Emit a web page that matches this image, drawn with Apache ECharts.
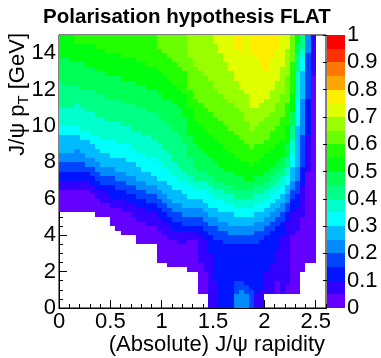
<!DOCTYPE html>
<html><head><meta charset="utf-8">
<script src="https://cdn.jsdelivr.net/npm/echarts@6/dist/echarts.min.js"></script>
<style>html,body{margin:0;padding:0;background:#fff}#c{width:381px;height:358px}</style>
</head><body><div id="c"></div>
<script>
// ---- data ----
const rapBinWidth = 0.05;          // |y| bin width
const ptBinWidth = 0.25;           // pT bin width [GeV]
const nPtBins = 60;                // 0..15 GeV
const zLevels = 20;                // colour contours 0..1 in steps of 0.05
// each column (rapidity bin) : "startRow:level" runs, from pT = 0 upwards; empty below first run
const columnRuns = [
"21:0 26:1 28:2 30:3 32:4 34:5 38:6 40:7 44:8 50:9 55:10",
"21:0 26:1 28:2 30:3 32:4 34:5 38:6 40:7 44:8 49:9 55:10",
"21:0 26:1 28:2 30:3 32:4 34:5 38:6 40:7 44:8 49:9 54:10",
"21:0 26:1 28:2 30:3 32:4 35:5 38:6 40:7 45:8 49:9 54:10 58:11",
"21:0 26:1 28:2 30:3 32:4 34:5 37:6 39:7 44:8 48:9 54:10 58:11",
"21:0 26:1 28:2 30:3 31:4 33:5 37:6 39:7 43:8 48:9 53:10 58:11",
"21:0 25:1 27:2 29:3 31:4 33:5 36:6 38:7 43:8 48:9 53:10 58:11",
"20:0 24:1 26:2 28:3 30:4 32:5 35:6 38:7 42:8 47:9 52:10 57:11",
"20:0 23:1 26:2 27:3 29:4 31:5 34:6 37:7 42:8 47:9 52:10 57:11",
"20:0 23:1 25:2 27:3 29:4 31:5 34:6 37:7 41:8 46:9 51:10 56:11",
"18:0 22:1 24:2 27:3 29:4 31:5 33:6 37:7 41:8 46:9 51:10 56:11",
"17:0 22:1 24:2 26:3 28:4 30:5 33:6 36:7 41:8 46:9 51:10 56:11",
"16:0 21:1 24:2 26:3 28:4 30:5 33:6 36:7 40:8 45:9 50:10 55:11",
"16:0 21:1 23:2 25:3 27:4 29:5 32:6 36:7 40:8 45:9 50:10 55:11",
"16:0 20:1 23:2 25:3 27:4 29:5 32:6 35:7 39:8 45:9 50:10 55:11",
"14:0 19:1 22:2 24:3 26:4 28:5 31:6 34:7 39:8 44:9 49:10 54:11",
"14:0 19:1 22:2 24:3 26:4 28:5 30:6 34:7 38:8 44:9 49:10 54:11",
"14:0 18:1 21:2 23:3 25:4 27:5 30:6 33:7 38:8 43:9 48:10 53:11",
"14:0 18:1 21:2 23:3 25:4 27:5 29:6 33:7 37:8 43:9 48:10 53:11",
"10:0 17:1 20:2 22:3 24:4 26:5 28:6 32:7 36:8 42:9 47:10 52:11 57:12",
"10:0 16:1 19:2 21:3 23:4 25:5 28:6 31:7 35:8 41:9 46:10 51:11 56:12",
"9:0 15:1 18:2 20:3 22:4 24:5 27:6 30:7 34:8 40:9 46:10 50:11 55:12",
"9:0 15:1 17:2 19:3 21:4 23:5 26:6 29:7 32:8 39:9 45:10 49:11 54:12",
"9:0 14:1 17:2 19:3 21:4 23:5 26:6 28:7 31:8 38:9 44:10 48:11 53:12",
"9:0 14:1 17:2 18:3 20:4 22:5 25:6 28:7 30:8 36:9 42:10 47:11 52:12",
"8:0 15:1 17:2 18:3 20:4 22:5 24:6 27:7 29:8 33:9 38:10 44:11 48:12 55:13",
"8:0 15:1 17:2 18:3 20:4 22:5 24:6 26:7 28:8 31:9 36:10 41:11 46:12 53:13",
"3:0 10:1 16:2 18:3 20:4 22:5 24:6 26:7 28:8 30:9 35:10 40:11 45:12 52:13",
"3:0 8:1 15:2 17:3 19:4 21:5 23:6 26:7 28:8 30:9 34:10 39:11 44:12 51:13",
"0:1 12:2 16:3 18:4 20:5 22:6 25:7 27:8 29:9 33:10 38:11 43:12 50:13",
"0:1 6:2 15:3 18:4 20:5 22:6 24:7 26:8 28:9 32:10 37:11 42:12 48:13 58:14",
"0:2 15:3 17:4 19:5 21:6 24:7 26:8 28:9 31:10 36:11 41:12 47:13 56:14",
"0:2 14:3 17:4 19:5 21:6 23:7 25:8 27:9 30:10 35:11 40:12 46:13 54:14",
"0:2 14:3 16:4 18:5 21:6 23:7 25:8 27:9 30:10 34:11 39:12 45:13 52:14",
"0:4 3:3 6:2 14:3 16:4 18:5 20:6 22:7 24:8 26:9 29:10 33:11 38:12 44:13 50:14 57:15",
"0:4 4:3 6:2 14:3 16:4 18:5 20:6 22:7 24:8 26:9 29:10 32:11 37:12 43:13 48:14 56:15",
"0:4 3:3 5:2 14:3 16:4 18:5 20:6 22:7 24:8 26:9 28:10 32:11 36:12 41:13 47:14",
"0:3 4:2 14:3 16:4 18:5 20:6 22:7 24:8 26:9 28:10 31:11 35:12 39:13 44:14 56:15",
"0:1 3:2 14:3 17:4 19:5 21:6 23:7 25:8 27:9 29:10 32:11 36:12 40:13 44:14 55:15",
"0:1 4:2 15:3 17:4 19:5 21:6 23:7 25:8 27:9 29:10 33:11 36:12 41:13 45:14 53:15",
"3:1 8:2 16:3 18:4 20:5 22:6 24:7 26:8 28:9 30:10 34:11 37:12 42:13 46:14 52:15",
"3:1 10:2 17:3 19:4 21:5 23:6 25:7 27:8 29:9 31:10 35:11 39:12 43:13 48:14 55:15",
"3:0 6:1 13:2 18:3 20:4 22:5 24:6 26:7 28:8 30:9 32:10 36:11 40:12 45:13 50:14 57:15",
"3:1 16:2 19:3 21:4 23:5 25:6 27:7 29:8 31:9 33:10 37:11 42:12 47:13 53:14",
"3:0 5:1 19:2 21:3 23:4 25:5 27:6 29:7 31:8 33:9 36:10 40:11 45:12 51:13 57:14",
"3:0 16:1 21:2 24:3 26:4 28:5 31:6 34:7 37:8 40:9 43:10 47:11 54:12",
"3:0 17:1 22:2 25:3 28:4 31:5 40:6 46:7 52:8 56:9 58:10",
"8:0 20:1 27:2 31:3 38:4 46:5 52:6 55:7 57:8",
"10:0 30:1 38:2 46:3 56:4",
"10:0 51:1",
"",
""
];
const paletteColors = ['#6300ff','#3300ff','#0014ff','#0044ff','#008bff','#00bbff','#00fffc','#00ffcc',
  '#00ff85','#00ff55','#00ff0e','#22ff00','#69ff00','#99ff00','#e0ff00','#ffee00','#ffa700','#ff7700','#ff3000','#ff0000'];

// ---- build cells ----
const cells = [];
columnRuns.forEach((s, c) => {
  if (!s) return;
  const runs = s.split(' ').map(t => t.split(':').map(Number));
  runs.forEach(([start, lvl], i) => {
    const end = i + 1 < runs.length ? runs[i + 1][0] : nPtBins;
    for (let r = start; r < end; r++) cells.push([c * rapBinWidth, r * ptBinWidth, (lvl + 0.5) / zLevels]);
  });
});
const paletteCells = [];
for (let i = 0; i < zLevels; i++) paletteCells.push([0, i / zLevels, (i + 0.5) / zLevels]);

const FONT = 'Liberation Sans, Arial, Helvetica, sans-serif';
const pieces = paletteColors.map((col, i) => i === zLevels - 1
  ? { gte: i / zLevels, lte: 1, color: col } : { gte: i / zLevels, lt: (i + 1) / zLevels, color: col });

function rectItem(api, x0, y0, x1, y1) {
  const a = api.coord([x0, y1]), b = api.coord([x1, y0]);
  const X0 = Math.round(a[0]), Y0 = Math.round(a[1]), X1 = Math.round(b[0]), Y1 = Math.round(b[1]);
  return { type: 'rect', shape: { x: X0, y: Y0, width: X1 - X0, height: Y1 - Y0 },
    style: { fill: api.visual('color') } };
}

const chart = echarts.init(document.getElementById('c'), null, { renderer: 'canvas' });
const axisTextStyle = { color: '#000', fontSize: 22, fontFamily: FONT };
chart.setOption({
  animation: false,
  backgroundColor: '#fff',
  grid: [
    { left: 59, top: 35, width: 267, height: 273, show: true, borderColor: '#000', borderWidth: 1, backgroundColor: 'transparent' },
    { left: 327, top: 35, width: 18, height: 273 }
  ],
  visualMap: { type: 'piecewise', show: false, dimension: 2, seriesIndex: [0, 1], pieces: pieces },
  xAxis: [
    { gridIndex: 0, type: 'value', min: 0, max: 2.6, interval: 0.1, position: 'bottom',
      axisLine: { show: true, lineStyle: { color: '#000', width: 1 } },
      axisTick: { show: true, inside: true, length: 4, lineStyle: { color: '#000' } },
      axisLabel: { show: false }, splitLine: { show: false } },
    { gridIndex: 0, type: 'value', min: 0, max: 2.6, interval: 0.5, position: 'bottom',
      axisLine: { show: false },
      axisTick: { show: true, inside: true, length: 8, lineStyle: { color: '#000' } },
      axisLabel: Object.assign({ show: true, margin: 3, showMaxLabel: false }, axisTextStyle),
      splitLine: { show: false } },
    { gridIndex: 1, type: 'value', min: 0, max: 1, show: false }
  ],
  yAxis: [
    { gridIndex: 0, type: 'value', min: 0, max: 15, interval: 0.5, position: 'left',
      axisLine: { show: true, lineStyle: { color: '#000', width: 1 } },
      axisTick: { show: true, inside: true, length: 4, lineStyle: { color: '#000' } },
      axisLabel: { show: false }, splitLine: { show: false } },
    { gridIndex: 0, type: 'value', min: 0, max: 15, interval: 2, position: 'left',
      axisLine: { show: false },
      axisTick: { show: true, inside: true, length: 8, lineStyle: { color: '#000' } },
      axisLabel: Object.assign({ show: true, margin: 3, showMaxLabel: false }, axisTextStyle),
      splitLine: { show: false } },
    { gridIndex: 1, type: 'value', min: 0, max: 1, interval: 0.1, position: 'right',
      axisLine: { show: false },
      axisTick: { show: true, inside: true, length: 4, lineStyle: { color: '#000' } },
      axisLabel: Object.assign({ show: true, margin: 2 }, axisTextStyle),
      splitLine: { show: false } }
  ],
  series: [
    { type: 'custom', xAxisIndex: 0, yAxisIndex: 0, data: cells, z: 1,
      renderItem: (p, api) => rectItem(api, api.value(0), api.value(1), api.value(0) + rapBinWidth, api.value(1) + ptBinWidth) },
    { type: 'custom', xAxisIndex: 2, yAxisIndex: 2, data: paletteCells, z: 1,
      renderItem: (p, api) => rectItem(api, 0, api.value(1), 1, api.value(1) + 1 / zLevels) }
  ],
  graphic: [
    { type: 'text', x: 187, y: 17, z: 10,
      style: { text: 'Polarisation hypothesis FLAT', fill: '#000', font: 'bold 20.5px ' + FONT, align: 'center', verticalAlign: 'middle' } },
    { type: 'text', x: 325, y: 345, z: 10,
      style: { text: '(Absolute) J/\u03c8 rapidity', fill: '#000', font: '22px ' + FONT, align: 'right', verticalAlign: 'middle' } },
    { type: 'text', x: 18, y: 33, rotation: Math.PI / 2, z: 10,
      style: { text: '{a|J/\u03c8 p}{b|T}{a| [GeV]}', align: 'right', verticalAlign: 'middle',
        rich: { a: { fill: '#000', fontSize: 22, fontFamily: FONT, lineHeight: 26, verticalAlign: 'middle' },
                b: { fill: '#000', fontSize: 15, fontFamily: FONT, lineHeight: 26, verticalAlign: 'bottom', padding: [0, 0, 0, 0] } } } }
  ]
});
</script></body></html>
